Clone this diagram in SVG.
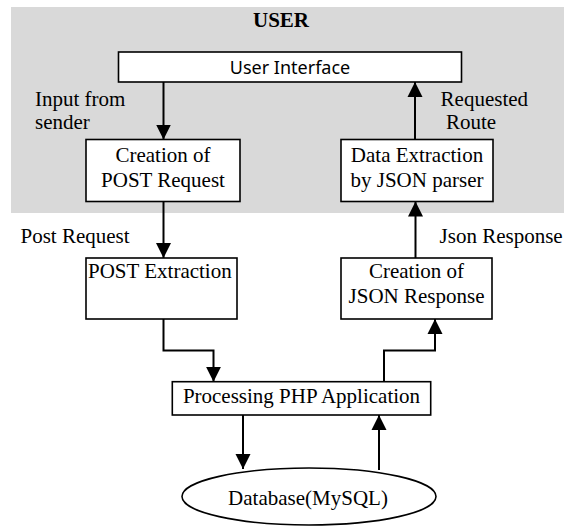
<svg xmlns="http://www.w3.org/2000/svg" width="564" height="527" viewBox="0 0 564 527">
<defs>
<style>
.box{fill:#fff;stroke:#000;stroke-width:1.6}
.t{font-family:"Liberation Serif","Times New Roman",serif;font-size:21px;fill:#000}
.c{text-anchor:middle}
.ui{font-family:"Noto Sans","Liberation Sans",sans-serif;font-size:18px;fill:#000;text-anchor:middle}
.con{fill:none;stroke:#000;stroke-width:2;marker-end:url(#ah)}
</style>
<marker id="ah" markerUnits="userSpaceOnUse" markerWidth="16" markerHeight="16" refX="15" refY="8" orient="auto" viewBox="0 0 16 16">
<path d="M0,0.5 L15,8 L0,15.5 z" fill="#000"/>
</marker>
</defs>
<rect id="user-zone" x="11" y="7" width="553" height="206" fill="#d9d9d9"/>
<text class="t c" x="281" y="27" font-weight="bold">USER</text>
<g id="user-interface">
<rect class="box" x="118.5" y="52" width="343" height="30"/>
<text class="ui" x="290" y="74">User Interface</text>
</g>
<g id="creation-post">
<rect class="box" x="86" y="139.5" width="154" height="62"/>
<text class="t c" x="163" y="161.5">Creation of</text>
<text class="t c" x="163" y="186.5">POST Request</text>
</g>
<g id="data-extraction">
<rect class="box" x="341" y="139.5" width="152" height="62"/>
<text class="t c" x="417" y="161.5">Data Extraction</text>
<text class="t c" x="417" y="186.5">by JSON parser</text>
</g>
<g id="post-extraction">
<rect class="box" x="86" y="258" width="151" height="61"/>
<text class="t" x="88" y="278.3">POST Extraction</text>
</g>
<g id="json-response">
<rect class="box" x="341" y="258" width="151" height="61"/>
<text class="t c" x="416.5" y="278.3">Creation of</text>
<text class="t c" x="416.5" y="303.3">JSON Response</text>
</g>
<g id="processing">
<rect class="box" x="172.3" y="381.7" width="258.4" height="33.3"/>
<text class="t c" x="301.5" y="403.3">Processing PHP Application</text>
</g>
<g id="database">
<ellipse class="box" cx="309" cy="496.5" rx="127" ry="28.5"/>
<text class="t c" x="308" y="505">Database(MySQL)</text>
</g>
<g id="connectors">
<path class="con" d="M163.5,82 V139.5"/>
<path class="con" d="M163.5,201.5 V258"/>
<path class="con" d="M415,139.5 V82"/>
<path class="con" d="M415.5,258 V201.5"/>
<path class="con" d="M163.5,319 V350.5 H213.5 V381.7"/>
<path class="con" d="M384,381.7 V350.5 H435 V319"/>
<path class="con" d="M243,415 V469"/>
<path class="con" d="M379,470 V415"/>
</g>
<g id="labels">
<text class="t" x="35" y="105.5">Input from</text>
<text class="t" x="35" y="128.5">sender</text>
<text class="t" x="440.6" y="105.5">Requested</text>
<text class="t" x="446" y="128.5">Route</text>
<text class="t" x="20.5" y="243.3">Post Request</text>
<text class="t" x="439.6" y="243.3">Json Response</text>
</g>
</svg>
